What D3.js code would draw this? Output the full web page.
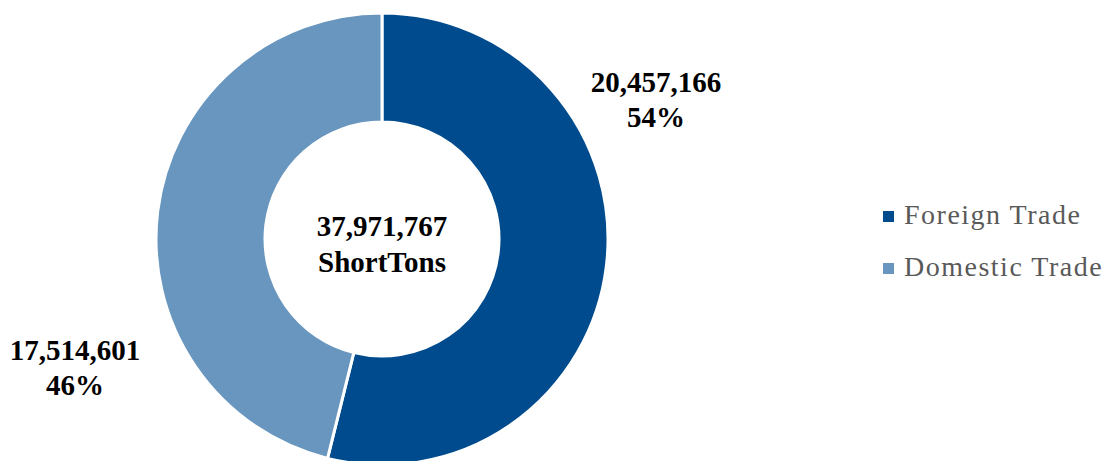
<!DOCTYPE html>
<html>
<head>
<meta charset="utf-8">
<script src="https://cdn.jsdelivr.net/npm/d3@7"></script>
<style>
  body { margin: 0; background: #fff; }
  svg { display: block; font-family: 'Liberation Serif', 'DejaVu Serif', serif; }
</style>
</head>
<body>
<div id="chart"></div>
<script>
const categories = ['Foreign Trade', 'Domestic Trade']
const values = [20457166, 17514601]
const colors = ['#004b8d', '#6896bf']
const totalLabel = ['37,971,767', 'ShortTons']

const width = 1108
const height = 461
const cx = 382
const cy = 239
const outerR = 226
const innerR = 117

const total = d3.sum(values)
const fmt = d3.format(',')
const pct = d3.format('.0%')

const svg = d3.select('#chart').append('svg')
  .attr('width', width)
  .attr('height', height)

const g = svg.append('g')
  .attr('transform', 'translate(' + cx + ',' + cy + ')')

const pie = d3.pie().value(d => d).sort(null)
const arc = d3.arc().innerRadius(innerR).outerRadius(outerR)
const arcs = pie(values)

g.selectAll('path')
  .data(arcs)
  .enter()
  .append('path')
  .attr('d', arc)
  .attr('fill', (d, i) => colors[i])
  .attr('stroke', '#fff')
  .attr('stroke-width', 3)

// slice labels, placed outside the ring
const labelPos = [[274, -147], [-307, 121]]
arcs.forEach(function (d, i) {
  const t = g.append('text')
    .attr('text-anchor', 'middle')
    .attr('font-weight', 'bold')
    .attr('font-size', 29)
    .attr('fill', '#000')
  t.append('tspan')
    .attr('x', labelPos[i][0]).attr('y', labelPos[i][1])
    .text(fmt(values[i]))
  t.append('tspan')
    .attr('x', labelPos[i][0]).attr('y', labelPos[i][1] + 35)
    .text(pct(values[i] / total))
})

// centre total
const c = g.append('text')
  .attr('text-anchor', 'middle')
  .attr('font-weight', 'bold')
  .attr('font-size', 29)
  .attr('fill', '#000')
totalLabel.forEach(function (s, i) {
  c.append('tspan').attr('x', 0).attr('y', -3 + i * 36).text(s)
})

// legend
const legend = svg.append('g').attr('transform', 'translate(883,0)')
categories.forEach(function (name, i) {
  const y = 224 + i * 52
  legend.append('rect')
    .attr('x', 0).attr('y', y - 13)
    .attr('width', 11).attr('height', 11)
    .attr('fill', colors[i])
  legend.append('text')
    .attr('x', 21).attr('y', y)
    .attr('font-size', 28)
    .attr('letter-spacing', 1.5)
    .attr('fill', '#595959')
    .text(name)
})
</script>
</body>
</html>
